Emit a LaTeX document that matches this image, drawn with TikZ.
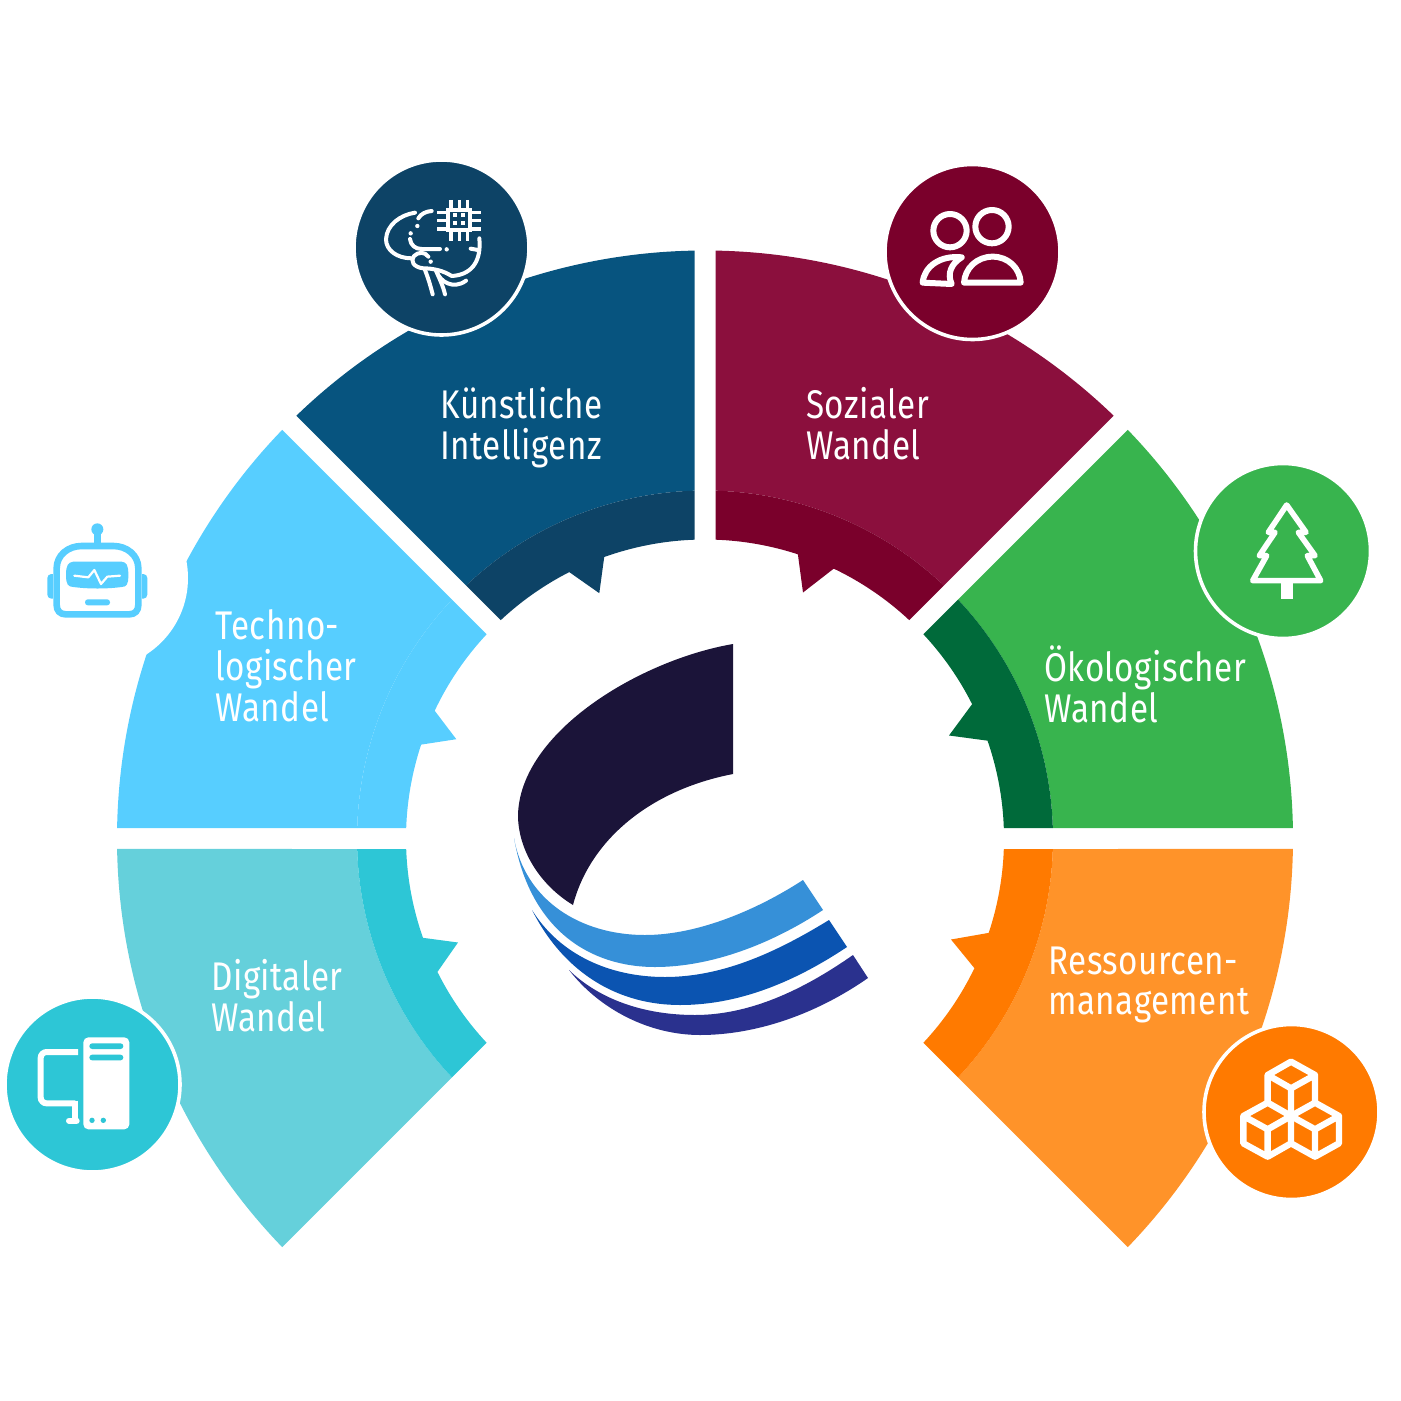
\documentclass[tikz,border=0pt]{standalone}
\usepackage{fontspec}
\newfontfamily\lbl[FakeStretch=0.83,LetterSpace=1.2]{Fira Sans}
\definecolor{kiO}{HTML}{07547F}\definecolor{kiI}{HTML}{0D4366}
\definecolor{soO}{HTML}{8B0F3D}\definecolor{soI}{HTML}{7A002B}
\definecolor{okO}{HTML}{38B44E}\definecolor{okI}{HTML}{006A3A}
\definecolor{reO}{HTML}{FF9329}\definecolor{reI}{HTML}{FF7A00}
\definecolor{diO}{HTML}{65D0DB}\definecolor{diI}{HTML}{2DC6D6}
\definecolor{teO}{HTML}{57CEFF}
\definecolor{lgA}{HTML}{1B1439}\definecolor{lgB}{HTML}{3690D8}
\definecolor{lgC}{HTML}{0B54B1}\definecolor{lgD}{HTML}{2A318E}
\newcommand\outerband[5]{% colour, low, d-low, high, d-high
 \fill[#1] ({#2+asin(#3/588)}:588) arc[start angle={#2+asin(#3/588)},end angle={#4-asin(#5/588)},radius=588]
  -- ({#4-asin(#5/348)}:348) arc[start angle={#4-asin(#5/348)},end angle={#2+asin(#3/348)},radius=348] -- cycle;}
\newcommand\innerband[8]{% colour, low, d-low, high, d-high, tooth high angle, tip, tooth low angle
 \fill[#1] ({#2+asin(#3/348)}:348) arc[start angle={#2+asin(#3/348)},end angle={#4-asin(#5/348)},radius=348]
  -- ({#4-asin(#5/299)}:299) arc[start angle={#4-asin(#5/299)},end angle={#6},radius=299]
  -- (#7) -- ({#8}:299) arc[start angle={#8},end angle={#2+asin(#3/299)},radius=299] -- cycle;}
\tikzset{
 lab/.style={font=\lbl\fontsize{20pt}{20.4pt}\selectfont,text=white,align=left,anchor=west,inner sep=0pt},
 badge/.style={circle,draw=white,line width=1.8pt,minimum size=87.5pt,inner sep=0pt},
 ico/.style={draw=white,line width=1.6pt,line cap=round,line join=round},
 zoomed/.style={x=0.16667pt,y=-0.16667pt}
}
\begin{document}
\begin{tikzpicture}[x=0.5pt,y=-0.5pt]
\useasboundingbox (0,0) rectangle (1401,1401);
\begin{scope}[shift={(705,838.5)},y=0.5pt]
 \outerband{kiO}{90}{10.5}{135}{10}
 \innerband{kiI}{90}{10.5}{135}{10}{117}{-105.7,245.3}{109.7}
 \outerband{soO}{45}{10}{90}{10.5}
 \innerband{soI}{45}{10}{90}{10.5}{71.9}{98,246}{64.5}
 \outerband{okO}{0}{10.5}{45}{10}
 \innerband{okI}{0}{10.5}{45}{10}{26.7}{244,103}{19.1}
 \outerband{reO}{-45}{10}{0}{10.5}
 \innerband{reI}{-45}{10}{0}{10.5}{-18.4}{246,-101}{-25.7}
 \outerband{diO}{180}{10.5}{225}{10}
 \innerband{diI}{180}{10.5}{225}{10}{206.5}{-247,-104}{199.4}
 \outerband{teO}{135}{10}{180}{10.5}
 \innerband{teO}{135}{10}{180}{10.5}{161.7}{-248.7,99.3}{154.7}
\end{scope}

% logo
\fill[lgA] (733,644) .. controls (640,660) and (520,732) .. (518,815)
  .. controls (518,850) and (540,885) .. (573,905)
  .. controls (590,840) and (650,790) .. (733,774) -- cycle;
\fill[lgB] (514,838) .. controls (525,900) and (580,935) .. (645,935) .. controls (700,935) and (760,908) .. (803,880)
  -- (823,910) .. controls (770,945) and (710,967) .. (655,967) .. controls (590,967) and (530,930) .. (514,838) -- cycle;
\fill[lgC] (532,910) .. controls (560,955) and (610,977) .. (665,977) .. controls (725,977) and (780,950) .. (829,920)
  -- (847,947) .. controls (790,985) and (735,1005) .. (680,1005) .. controls (620,1005) and (565,975) .. (532,910) -- cycle;
\fill[lgD] (569,970) .. controls (600,1000) and (645,1015) .. (695,1015) .. controls (755,1015) and (810,985) .. (853,955)
  -- (868,978) .. controls (815,1015) and (755,1035) .. (700,1035) .. controls (650,1035) and (600,1010) .. (569,970) -- cycle;

% badges
\node[badge,fill=white,draw=none,minimum size=91pt] (robotbg) at (97,578) {};
\node[badge,fill=kiI] (kibadge) at (441.5,247.5) {};
\node[badge,fill=soI] (sobadge) at (972.5,252) {};
\node[badge,fill=okO] (okbadge) at (1283,551) {};
\node[badge,fill=reI] (rebadge) at (1291.5,1112) {};
\node[badge,fill=diI] (dibadge) at (92.5,1084.5) {};

% brain icon
\begin{scope}[shift={(340,150)},zoomed]
 \draw[white,line width=1.9pt] (325,180) rectangle (390,240);
 \foreach \p in {333,358,383}{\draw[white,line width=1.7pt] (\p,150) -- (\p,178); \draw[white,line width=1.7pt] (\p,243) -- (\p,272);}
 \foreach \p in {187,212,237}{\draw[white,line width=1.7pt] (292,\p) -- (322,\p); \draw[white,line width=1.7pt] (393,\p) -- (423,\p);}
 \foreach \a in {345,370}\foreach \b in {195,220}{\fill[white] (\a-6,\b-6) rectangle (\a+6,\b+6);}
 \draw[ico,line width=2pt] (275,183) .. controls (258,184) and (242,192) .. (235,205);
 \draw[ico,line width=2pt] (225,188) .. controls (180,195) and (140,225) .. (138,268) .. controls (138,300) and (170,325) .. (215,325);
 \fill[white] (232,228) circle (6.5) (212,250) circle (6.5) (320,298) circle (6.5) (272,335) circle (6.5);
 \draw[ico,line width=2pt] (210,267) .. controls (212,285) and (225,297) .. (245,297) -- (300,297);
 \draw[ico,line width=2pt] (265,320) .. controls (255,305) and (235,305) .. (222,318) .. controls (210,332) and (220,352) .. (250,355) .. controls (280,355) and (310,362) .. (335,378) .. controls (390,375) and (425,340) .. (418,265);
 \draw[ico,line width=2pt] (392,296) -- (414,300);
 \draw[ico,line width=2pt] (255,360) .. controls (265,385) and (272,410) .. (278,433);
 \draw[ico,line width=2pt] (288,362) .. controls (298,385) and (310,410) .. (315,433);
 \draw[ico,line width=2pt] (290,365) .. controls (300,395) and (340,420) .. (378,392);
\end{scope}

% people icon
\begin{scope}[shift={(900,190)},zoomed]
 \draw[ico,line width=3pt] (150,122) circle (50) (276,110) circle (50);
 \draw[ico,line width=3pt] (192,278) -- (362,278) .. controls (360,235) and (325,200) .. (278,200) .. controls (230,200) and (195,235) .. (192,278) -- cycle;
 \draw[ico,line width=3pt] (68,278) -- (155,282) .. controls (140,250) and (155,220) .. (185,202) .. controls (120,195) and (72,230) .. (68,278) -- cycle;
\end{scope}

% tree icon
\begin{scope}[shift={(1230,490)},zoomed]
 \draw[ico,line width=2.8pt] (170,45) -- (115,127) -- (135,127) -- (88,197) -- (110,197) -- (68,272) -- (272,272) -- (232,197) -- (255,197) -- (205,127) -- (228,127) -- cycle;
 \fill[white] (152,280) rectangle (188,326);
\end{scope}

% cubes icon
\begin{scope}[shift={(1200,1020)},zoomed]
 \draw[ico,line width=3.2pt] (273,125) -- (203,165) -- (273,205) -- (345,165) -- cycle
   (203,165) -- (203,248) (345,165) -- (345,248) (273,205) -- (273,288);
 \draw[ico,line width=3.2pt] (203,248) -- (130,288) -- (203,328) -- (273,288) -- cycle
   (130,288) -- (130,370) -- (203,410) -- (273,370) -- (273,288) (203,328) -- (203,410);
 \draw[ico,line width=3.2pt] (345,248) -- (273,288) -- (345,328) -- (417,288) -- cycle
   (417,288) -- (417,370) -- (345,410) -- (273,370) (345,328) -- (345,410);
\end{scope}

% computer icon
\begin{scope}[shift={(0,990)},zoomed]
 \draw[white,line width=3pt,rounded corners=3pt] (234,186) -- (122,186) -- (122,340) -- (226,340);
 \draw[white,line width=3pt] (225,332) -- (225,400);
 \draw[white,line width=3pt,line cap=round] (207,392) -- (230,392);
 \fill[white,rounded corners=2.5pt] (250,142) rectangle (388,418);
 \fill[diI,rounded corners=1.4pt] (268,160) rectangle (370,177);
 \fill[diI,rounded corners=1.4pt] (268,194) rectangle (370,211);
 \fill[diI] (276,391) circle (8) (310,391) circle (8);
\end{scope}

% robot icon
\begin{scope}[shift={(20,500)},zoomed]
 \fill[teO] (232,88) circle (18);
 \fill[teO] (222,95) rectangle (242,132);
 \fill[teO,rounded corners=2pt] (82,222) rectangle (110,296);
 \fill[teO,rounded corners=2pt] (354,222) rectangle (382,296);
 \fill[white] (100,200) rectangle (365,320);
 \draw[teO,line width=3.3pt,line join=round] (110,295) -- (110,205) .. controls (110,165) and (145,138) .. (185,138) -- (280,138) .. controls (320,138) and (355,165) .. (355,205) -- (355,315) .. controls (355,332) and (345,343) .. (328,343) -- (137,343) .. controls (120,343) and (110,332) .. (110,315) -- cycle;
 \fill[teO] (160,185) -- (305,185) .. controls (320,187) and (325,195) .. (325,225) .. controls (325,255) and (320,260) .. (305,261) .. controls (260,267) and (205,267) .. (160,261) .. controls (145,260) and (138,255) .. (138,225) .. controls (138,195) and (145,187) .. (160,185) -- cycle;
 \draw[white,line width=1.1pt,line cap=round,line join=round] (163,227) -- (205,232) -- (223,210) -- (243,252) -- (262,230) -- (300,227);
 \fill[teO,rounded corners=1.4pt] (195,298) rectangle (270,316);
\end{scope}

% labels
\node[lab] (ki) at (440,428) {Künstliche\\Intelligenz};
\node[lab] (so) at (806,424) {Sozialer\\Wandel};
\node[lab] (te) at (215,665.5) {Techno-\\logischer\\Wandel};
\node[lab] (ok) at (1044,684.5) {Ökologischer\\Wandel};
\node[lab] (di) at (211,996) {Digitaler\\Wandel};
\node[lab] (re) at (1048,985) {Ressourcen-\\management};
\end{tikzpicture}
\end{document}
